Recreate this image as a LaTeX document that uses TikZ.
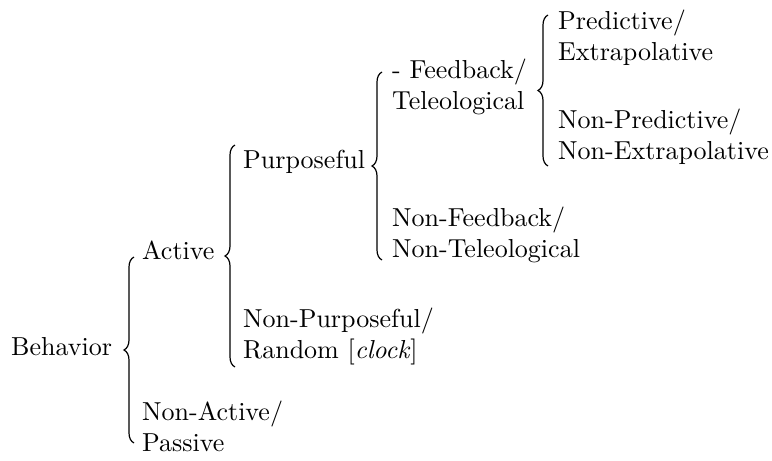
\documentclass[tikz,border=0pt]{standalone}
\usetikzlibrary{decorations.pathreplacing}
\usepackage{graphicx}
\newcommand{\lab}[1]{\scalebox{2.6}{\fontsize{10}{11.55}\selectfont\begin{tabular}{@{}l@{}}#1\end{tabular}}}
\tikzset{
  lbl/.style={anchor=west, inner sep=0pt},
  brc/.style={decorate, decoration={brace, amplitude=10pt}, line width=1.2pt}
}
\begin{document}
\begin{tikzpicture}[x=1pt, y=-1pt]
\useasboundingbox (0,0) rectangle (772,461);
% labels
\node[lbl] (beh) at (11,349) {\lab{Behavior}};
\node[lbl] (act) at (142,253) {\lab{Active}};
\node[lbl] (nonact) at (142,430) {\lab{Non-Active/\\Passive}};
\node[lbl] (purp) at (243,162) {\lab{Purposeful}};
\node[lbl] (nonpurp) at (243,337) {\lab{Non-Purposeful/\\Random [\textit{clock}]}};
\node[lbl] (fb) at (392,88) {\lab{- Feedback/\\Teleological}};
\node[lbl] (nonfb) at (392,236) {\lab{Non-Feedback/\\Non-Teleological}};
\node[lbl] (pred) at (558,39) {\lab{Predictive/\\Extrapolative}};
\node[lbl] (nonpred) at (558,138) {\lab{Non-Predictive/\\Non-Extrapolative}};
% brace ends
\coordinate (b1t) at (134,257); \coordinate (b1b) at (134,443);
\coordinate (b2t) at (235,145); \coordinate (b2b) at (235,367);
\coordinate (b3t) at (382,72);  \coordinate (b3b) at (382,260);
\coordinate (b4t) at (548,15);  \coordinate (b4b) at (548,166);
\draw[brc] (b1b) -- (b1t);
\draw[brc] (b2b) -- (b2t);
\draw[brc] (b3b) -- (b3t);
\draw[brc] (b4b) -- (b4t);
\end{tikzpicture}
\end{document}
